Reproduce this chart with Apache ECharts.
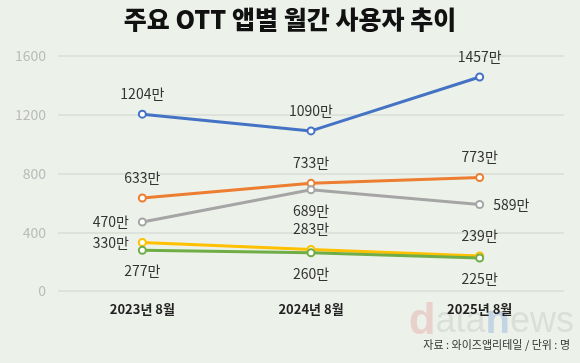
<!DOCTYPE html>
<html><head><meta charset="utf-8">
<script src="https://cdn.jsdelivr.net/npm/echarts@6/dist/echarts.min.js"></script>
<style>html,body{margin:0;padding:0;background:#ecf1e9}#c{width:580px;height:363px}</style>
</head><body><div id="c"></div>
<script>
const categories = ['2023년 8월', '2024년 8월', '2025년 8월'];
const yTicks = [0, 400, 800, 1200, 1600];
const seriesNames = ['A', 'B', 'C', 'D', 'E'];
const blueVals = [1204, 1090, 1457];
const orangeVals = [633, 733, 773];
const grayVals = [470, 689, 589];
const yellowVals = [330, 283, 239];
const greenVals = [277, 260, 225];

const F = "'Noto Sans CJK KR', 'Noto Sans', sans-serif";
function mk(name, vals, color, positions) {
  return {
    name, type: 'line', data: vals.map((v, i) => ({
      value: v,
      label: { position: positions[i] }
    })),
    symbol: 'emptyCircle', symbolSize: 7,
    lineStyle: { color, width: 3 },
    itemStyle: { color, borderWidth: 2 },
    label: { show: true, formatter: p => p.value + '만', color: '#333', fontSize: 14, fontFamily: F, distance: 9 },
    z: 3
  };
}
const chart = echarts.init(document.getElementById('c'));
chart.setOption({
  backgroundColor: '#ecf1e9',
  animation: false,
  title: { text: '주요 OTT 앱별 월간 사용자 추이', left: 'center', top: 2,
    textStyle: { fontSize: 25, fontWeight: 900, color: '#111', fontFamily: F } },
  grid: { left: 58, right: 16, top: 56, bottom: 72 },
  xAxis: { type: 'category', data: categories, boundaryGap: true,
    axisLine: { show: false }, axisTick: { show: false },
    axisLabel: { fontSize: 13, fontWeight: 'bold', color: '#222', fontFamily: F, margin: 12 } },
  yAxis: { type: 'value', min: 0, max: 1600, interval: 400,
    axisLabel: { color: '#bbb', fontSize: 14, fontFamily: F, margin: 12, formatter: v => String(v) },
    splitLine: { lineStyle: { color: '#d8dcd6', width: 1.5 } } },
  series: [
    mk(seriesNames[0], blueVals, '#4472c4', ['top', 'top', 'top']),
    mk(seriesNames[1], orangeVals, '#ed7d31', ['top', 'top', 'top']),
    mk(seriesNames[2], grayVals, '#a5a5a5', ['left', 'bottom', 'right']),
    mk(seriesNames[3], yellowVals, '#ffc000', ['left', 'top', 'top']),
    mk(seriesNames[4], greenVals, '#70ad47', ['bottom', 'bottom', 'bottom'])
  ],
  graphic: [
    { type: 'text', right: 6, top: 300, z: 0, style: {
      text: '{d|d}{a|ata}{n|n}{a|ews}', fontSize: 40, fontFamily: 'Liberation Sans, sans-serif',
      rich: {
        d: { fontSize: 44, fontWeight: 'bold', fill: 'rgba(230,150,150,0.35)', fontFamily: 'Liberation Sans, sans-serif' },
        n: { fontSize: 40, fontWeight: 'bold', fill: 'rgba(120,160,220,0.35)', fontFamily: 'Liberation Sans, sans-serif' },
        a: { fontSize: 36, fill: 'rgba(190,190,190,0.35)', fontFamily: 'Liberation Sans, sans-serif' }
      } } },
    { type: 'text', right: 10, top: 339, style: { text: '자료 : 와이즈앱리테일 / 단위 : 명', fontSize: 11, fontFamily: F, fill: '#333' } }
  ]
});
</script></body></html>
